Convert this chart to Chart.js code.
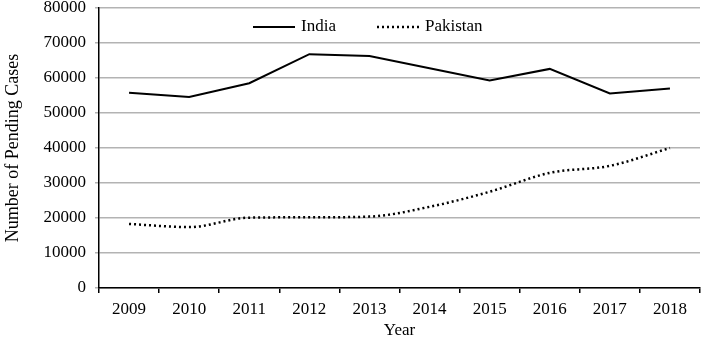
<!DOCTYPE html>
<html lang="en">
<head>
    <title>Pending Cases: India vs Pakistan</title>
    <script src="https://cdn.jsdelivr.net/npm/chart.js"></script>
    <style>
        html, body { margin: 0; padding: 0; background: #fff; overflow: hidden; }
        #chartContainer { width: 702px; height: 339px; }
    </style>
</head>
<body>

<div id="chartContainer">
    <canvas id="pendingChart" width="702" height="339"></canvas>
</div>

<script>
// Data
const years = ['2009', '2010', '2011', '2012', '2013', '2014', '2015', '2016', '2017', '2018'];
const indiaCases = [55800, 54600, 58500, 66800, 66300, 62800, 59300, 62600, 55600, 57000];
const pakistanCases = [18300, 17400, 20100, 20200, 20400, 23200, 27500, 32900, 34900, 40000];
const yTicks = [0, 10000, 20000, 30000, 40000, 50000, 60000, 70000, 80000];

const serif = "'Liberation Serif', 'Times New Roman', serif";

// Legend drawn inside the plot area, like the original figure
const innerLegend = {
    id: 'innerLegend',
    afterDraw(chart) {
        const ctx = chart.ctx;
        const area = chart.chartArea;
        const y = area.top + 19;
        let x = area.left + 154;
        ctx.save();
        ctx.font = '17px ' + serif;
        ctx.textBaseline = 'middle';
        chart.data.datasets.forEach(ds => {
            ctx.beginPath();
            ctx.strokeStyle = ds.borderColor;
            ctx.lineWidth = ds.borderWidth;
            ctx.setLineDash(ds.borderDash || []);
            ctx.moveTo(x, y);
            ctx.lineTo(x + 42, y);
            ctx.stroke();
            ctx.setLineDash([]);
            ctx.fillStyle = '#000';
            ctx.fillText(ds.label, x + 48, y);
            x += 124;
        });
        ctx.restore();
    }
};

const ctx = document.getElementById('pendingChart').getContext('2d');
new Chart(ctx, {
    type: 'line',
    data: {
        labels: years,
        datasets: [{
            label: 'India',
            data: indiaCases,
            borderColor: '#000',
            borderWidth: 2,
            pointRadius: 0,
            tension: 0,
            fill: false
        }, {
            label: 'Pakistan',
            data: pakistanCases,
            borderColor: '#000',
            borderWidth: 2.5,
            borderDash: [2, 3],
            pointRadius: 0,
            cubicInterpolationMode: 'monotone',
            fill: false
        }]
    },
    options: {
        responsive: false,
        animation: false,
        layout: { padding: { top: 8, right: 2, left: 0, bottom: 0 } },
        plugins: {
            legend: { display: false },
            tooltip: { enabled: false }
        },
        scales: {
            x: {
                offset: true,
                afterFit: s => { s.height = 51; },
                grid: {
                    offset: true,
                    drawOnChartArea: false,
                    drawTicks: true,
                    tickLength: 5,
                    color: '#000',
                    lineWidth: 1.5
                },
                border: { display: true, color: '#000', width: 1.5 },
                ticks: {
                    color: '#000',
                    padding: 6,
                    maxRotation: 0,
                    autoSkip: false,
                    font: { family: serif, size: 17 }
                },
                title: {
                    display: true,
                    text: 'Year',
                    color: '#000',
                    padding: 0,
                    font: { family: serif, size: 17, lineHeight: 1.0 }
                }
            },
            y: {
                min: 0,
                max: 80000,
                afterFit: s => { s.width = 99; s.paddingTop = 0; s.paddingBottom = 0; },
                afterBuildTicks: s => { s.ticks = yTicks.map(v => ({ value: v })); },
                grid: {
                    color: '#b3b3b3',
                    lineWidth: 1.5,
                    tickLength: 4
                },
                border: { display: true, color: '#000', width: 1.5 },
                ticks: {
                    color: '#000',
                    padding: 9,
                    autoSkip: false,
                    font: { family: serif, size: 17 },
                    callback: v => String(v)
                },
                title: {
                    display: true,
                    text: 'Number of Pending Cases',
                    color: '#000',
                    padding: 2,
                    font: { family: serif, size: 18 }
                }
            }
        }
    },
    plugins: [innerLegend]
});
</script>

</body>
</html>
